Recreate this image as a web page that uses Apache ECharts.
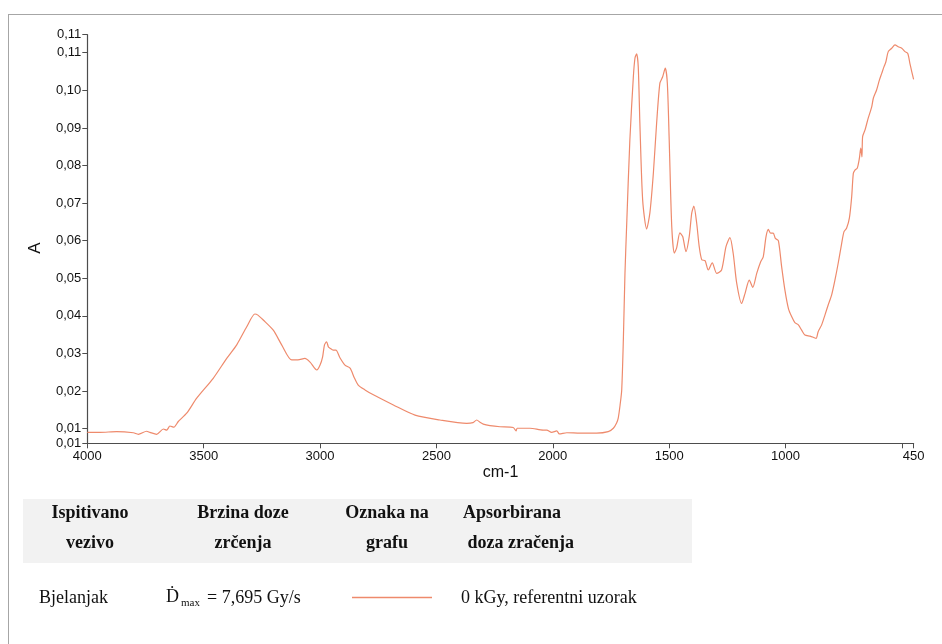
<!DOCTYPE html>
<html>
<head>
<meta charset="utf-8">
<script src="https://cdn.jsdelivr.net/npm/echarts@6/dist/echarts.min.js"></script>
<style>
html,body{margin:0;padding:0;background:#fff;}
#chart{width:942px;height:644px;}
</style>
</head>
<body>
<div id="chart"></div>
<script>
// ---- data ----
var wavenumber = [4000,3945,3874,3802,3781,3745,3731,3702,3673,3659,3645,3628,3609,3573,3530,3459,3401,3358,3315,3280,3267,3244,3201,3165,3122,3095,3065,3043,3014,3000,2989,2981,2972,2964,2957,2944,2932,2914,2893,2871,2854,2836,2807,2771,2685,2592,2485,2370,2343,2327,2313,2299,2270,2227,2170,2158,2153,2098,2041,2026,2005,1983,1972,1940,1883,1812,1762,1740,1726,1719,1711,1704,1697,1690,1683,1669,1654,1647,1640,1633,1626,1614,1597,1583,1568,1554,1540,1528,1517,1508,1500,1489,1478,1468,1454,1442,1428,1414,1403,1394,1382,1371,1360,1346,1332,1315,1296,1275,1256,1239,1225,1210,1189,1174,1156,1141,1124,1107,1096,1084,1074,1064,1053,1044,1031,1017,1003,988,974,960,945,931,917,895,881,869,860,845,831,817,802,788,774,759,749,738,726,716,709,702,692,683,677,672,669,659,645,630,623,609,597,587,577,569,559,544,530,516,501,487,475,466,458,450];
var absorbance = [0.0090,0.0090,0.0092,0.0089,0.0085,0.0093,0.0090,0.0085,0.0099,0.0096,0.0107,0.0104,0.0119,0.0141,0.0181,0.0234,0.0287,0.0323,0.0371,0.0405,0.0402,0.0389,0.0362,0.0323,0.0283,0.0283,0.0287,0.0277,0.0256,0.0269,0.0291,0.0323,0.0331,0.0317,0.0314,0.0309,0.0309,0.0288,0.0269,0.0261,0.0237,0.0216,0.0203,0.0190,0.0163,0.0136,0.0123,0.0114,0.0116,0.0123,0.0117,0.0112,0.0108,0.0105,0.0103,0.0094,0.0101,0.0101,0.0096,0.0096,0.0090,0.0094,0.0086,0.0089,0.0088,0.0088,0.0092,0.0101,0.0115,0.0128,0.0163,0.0203,0.0336,0.0514,0.0637,0.0868,0.1036,0.1086,0.1097,0.1063,0.0913,0.0708,0.0631,0.0674,0.0780,0.0913,0.1019,0.1036,0.1059,0.1019,0.0868,0.0637,0.0567,0.0581,0.0621,0.0611,0.0571,0.0611,0.0674,0.0692,0.0647,0.0584,0.0549,0.0547,0.0522,0.0541,0.0513,0.0522,0.0584,0.0608,0.0566,0.0487,0.0433,0.0460,0.0495,0.0476,0.0513,0.0544,0.0557,0.0611,0.0630,0.0620,0.0620,0.0606,0.0600,0.0531,0.0469,0.0420,0.0398,0.0382,0.0376,0.0362,0.0349,0.0346,0.0343,0.0340,0.0358,0.0376,0.0402,0.0429,0.0456,0.0495,0.0540,0.0593,0.0624,0.0633,0.0660,0.0717,0.0779,0.0788,0.0793,0.0819,0.0846,0.0823,0.0877,0.0894,0.0926,0.0956,0.0979,0.1001,0.1027,0.1045,0.1063,0.1076,0.1103,0.1112,0.1121,0.1116,0.1112,0.1103,0.1098,0.1072,0.1050,0.1029];
var xTickValues = [4000,3500,3000,2500,2000,1500,1000,500,450];
var xLabelValues = [4000,3500,3000,2500,2000,1500,1000,450];
var yMin = 0.0061, yMax = 0.1148;
var yTickValues = [yMin,0.01,0.02,0.03,0.04,0.05,0.06,0.07,0.08,0.09,0.10,0.11,yMax];
var xAxisTitle = 'cm-1';
var yAxisTitle = 'A';
var tableHeader = [['Ispitivano','vezivo'],['Brzina doze','zrčenja'],['Oznaka na','grafu'],['Apsorbirana',' doza zračenja']];
var tableRow = ['Bjelanjak','Ḋ','max','= 7,695 Gy/s','0 kGy, referentni uzorak'];

var lineColor = '#ee8a6c';
var axisColor = '#4d4d4d';
var sans = '"Liberation Sans", Arial, sans-serif';
var serif = '"Liberation Serif", "Times New Roman", serif';

var seriesData = wavenumber.map(function(w,i){ return [w, absorbance[i]]; });

var chart = echarts.init(document.getElementById('chart'), null, {renderer:'canvas'});

var graphics = [
  {type:'line', shape:{x1:8,y1:14.5,x2:942,y2:14.5}, style:{stroke:'#a6a6a6',lineWidth:1}, silent:true},
  {type:'line', shape:{x1:8.5,y1:14,x2:8.5,y2:644}, style:{stroke:'#a6a6a6',lineWidth:1}, silent:true},
  {type:'rect', shape:{x:23,y:499,width:669,height:64}, style:{fill:'#f2f2f2'}, silent:true},
  {type:'text', x:35.5, y:248, rotation:Math.PI/2, style:{text:yAxisTitle, x:0, y:0, font:'17px '+sans, fill:'#111', textAlign:'center', textVerticalAlign:'middle'}},
  {type:'text', style:{text:xAxisTitle, x:500.5, y:473, font:'16px '+sans, fill:'#111', textAlign:'center', textVerticalAlign:'middle'}}
];
var colCenters = [90, 243, 387, null];
tableHeader.forEach(function(h, i){
  [513, 543].forEach(function(yy, j){
    var isLeft = colCenters[i] === null;
    graphics.push({type:'text', style:{text:h[j], x: isLeft ? 463 : colCenters[i], y:yy, font:'bold 18px '+serif, fill:'#111', textAlign: isLeft ? 'left' : 'center', textVerticalAlign:'middle'}});
  });
});
graphics.push({type:'text', style:{text:tableRow[0], x:39, y:598, font:'18px '+serif, fill:'#111', textAlign:'left', textVerticalAlign:'middle'}});
graphics.push({type:'text', style:{text:tableRow[1], x:166, y:597, font:'18px '+serif, fill:'#111', textAlign:'left', textVerticalAlign:'middle'}});
graphics.push({type:'text', style:{text:tableRow[2], x:181, y:603, font:'11px '+serif, fill:'#111', textAlign:'left', textVerticalAlign:'middle'}});
graphics.push({type:'text', style:{text:tableRow[3], x:207, y:598, font:'18px '+serif, fill:'#111', textAlign:'left', textVerticalAlign:'middle'}});
graphics.push({type:'line', shape:{x1:352,y1:597.5,x2:432,y2:597.5}, style:{stroke:lineColor,lineWidth:1.3}, silent:true});
graphics.push({type:'text', style:{text:tableRow[4], x:461, y:598, font:'18px '+serif, fill:'#111', textAlign:'left', textVerticalAlign:'middle'}});

chart.setOption({
  animation:false,
  backgroundColor:'#fff',
  grid:{left:87.3, top:34.7, width:826.3, height:408.6, containLabel:false},
  xAxis:{
    type:'value', min:450, max:4000, inverse:true,
    axisLine:{show:true, onZero:false, lineStyle:{color:axisColor, width:1.2}},
    axisTick:{show:true, length:5, inside:false, customValues:xTickValues, lineStyle:{color:axisColor}},
    axisLabel:{customValues:xLabelValues, fontFamily:sans, fontSize:13, color:'#111', margin:7, formatter:function(v){return String(v);}},
    splitLine:{show:false}
  },
  yAxis:{
    type:'value', min:yMin, max:yMax,
    axisLine:{show:true, onZero:false, lineStyle:{color:axisColor, width:1.2}},
    axisTick:{show:true, length:5, inside:false, customValues:yTickValues, lineStyle:{color:axisColor}},
    axisLabel:{customValues:yTickValues, fontFamily:sans, fontSize:13, color:'#111', margin:6, formatter:function(v){return v.toFixed(2).replace('.', ',');}},
    splitLine:{show:false}
  },
  series:[{
    type:'line', data:seriesData, showSymbol:false, symbol:'none',
    smooth:0.25,
    lineStyle:{color:lineColor, width:1.2},
    itemStyle:{color:lineColor}
  }],
  graphic:graphics
});
</script>
</body>
</html>
